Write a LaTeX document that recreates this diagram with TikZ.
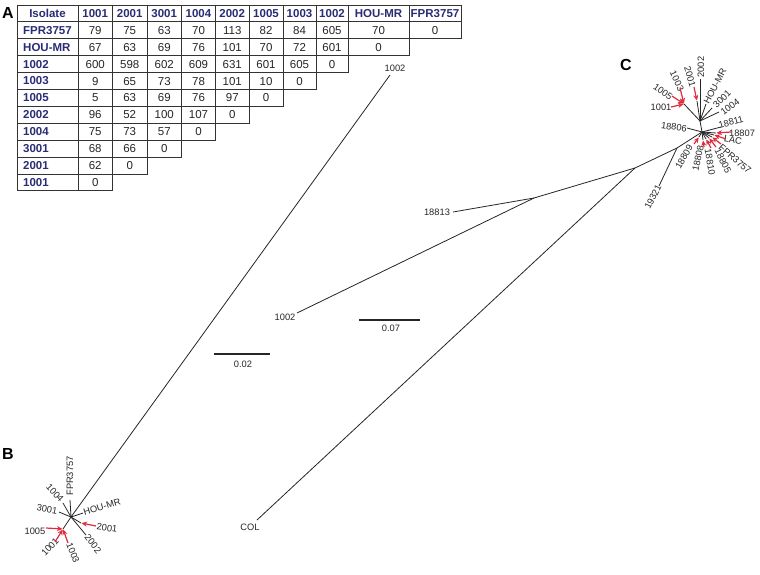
\documentclass[tikz,border=0pt]{standalone}
\usepackage{fontspec}
\setmainfont{Liberation Sans}
\usetikzlibrary{arrows.meta}
\definecolor{navy}{RGB}{42,44,118}
\definecolor{arrred}{RGB}{222,44,60}
\begin{document}
\begin{tikzpicture}[x=1pt,y=-1pt,
  tl/.style={line width=0.8pt, draw=black!85},
  sbar/.style={line width=1.3pt, draw=black!85},
  lbl/.style={font=\fontsize{9.3}{10}\selectfont, inner sep=0pt, text=black!85},
  redarr/.style={draw=arrred, line width=1.2pt, shorten >=0.5pt, -{Stealth[length=5.5pt,width=5pt]}},
  cellline/.style={draw=black!80, line width=0.9pt},
  hdr/.style={font=\fontsize{11.5}{13}\selectfont\bfseries, text=navy, inner sep=0pt},
  num/.style={font=\fontsize{11.5}{13}\selectfont, text=black!85, inner sep=0pt},
  panel/.style={font=\fontsize{16}{18}\selectfont\bfseries, inner sep=0pt}]
\useasboundingbox (0,0) rectangle (760,575);
\fill[white] (0,0) rectangle (760,575);

% ---------------- table (A) ----------------
\def\colxarr{{17,78,112.5,147,181.5,215.5,249,283,316,348,409,461}}
\foreach \h [count=\c from 0] in {Isolate,1001,2001,3001,1004,2002,1005,1003,1002,HOU-MR,FPR3757}{
  \pgfmathsetmacro\xa{\colxarr[\c]}
  \pgfmathsetmacro\xb{\colxarr[\c+1]}
  \draw[cellline] (\xa,5) rectangle (\xb,21.9);
  \node[hdr] (h-\c) at ({(\xa+\xb)/2},13.45) {\h};
}
\foreach \lab/\vals [count=\r] in {
  FPR3757/{79,75,63,70,113,82,84,605,70,0},
  HOU-MR/{67,63,69,76,101,70,72,601,0},
  1002/{600,598,602,609,631,601,605,0},
  1003/{9,65,73,78,101,10,0},
  1005/{5,63,69,76,97,0},
  2002/{96,52,100,107,0},
  1004/{75,73,57,0},
  3001/{68,66,0},
  2001/{62,0},
  1001/{0}}{
  \pgfmathsetmacro\ya{5+16.9*\r}
  \pgfmathsetmacro\yb{\ya+16.9}
  \draw[cellline] (17,\ya) rectangle (78,\yb);
  \node[hdr,anchor=west] (r-\r) at (23,{(\ya+\yb)/2}) {\lab};
  \foreach \v [count=\c] in \vals {
    \pgfmathsetmacro\xa{\colxarr[\c]}
    \pgfmathsetmacro\xb{\colxarr[\c+1]}
    \draw[cellline] (\xa,\ya) rectangle (\xb,\yb);
    \node[num] (v-\r-\c) at ({(\xa+\xb)/2},{(\ya+\yb)/2}) {\v};
  }
}

% ---------------- panel letters ----------------
\node[panel] (pA) at (8,13) {A};
\node[panel] (pB) at (8,454) {B};
\node[panel] (pC) at (626,65) {C};

% ---------------- tree B ----------------
\coordinate (b0) at (71,517);
\coordinate (bn) at (63,529);
\coordinate (bFPR) at (70,500);
\coordinate (b1004) at (63,503);
\coordinate (b3001) at (59,512);
\coordinate (bHOU) at (83,513);
\coordinate (b2001) at (81,523);
\coordinate (b2002) at (86,535);
\coordinate (t1002) at (390,75);
\draw[tl] (b0) -- (t1002);
\foreach \t in {bn,bFPR,b1004,b3001,bHOU,b2001,b2002} \draw[tl] (b0) -- (\t);
\node[lbl] (lt1002) at (395,68) {1002};
\node[lbl,rotate=90] (lbFPR) at (70,476) {FPR3757};
\node[lbl,rotate=-48] (lb1004) at (55,493) {1004};
\node[lbl,rotate=-10] (lb3001) at (47,509) {3001};
\node[lbl,rotate=17] (lbHOU) at (102,507) {HOU-MR};
\node[lbl,rotate=-8] (lb2001) at (107,528) {2001};
\node[lbl,rotate=-52] (lb2002) at (93,544) {2002};
\node[lbl] (lb1005) at (35,531) {1005};
\node[lbl,rotate=47] (lb1001) at (50,547) {1001};
\node[lbl,rotate=-68] (lb1003) at (73,553) {1003};
\coordinate (ba1005) at (46,528);
\coordinate (ba1001) at (55,542);
\coordinate (ba1003) at (68,543);
\coordinate (ba2001) at (96,526);
\draw[redarr] (ba1005) -- (bn);
\draw[redarr] (ba1001) -- (bn);
\draw[redarr] (ba1003) -- (bn);
\draw[redarr] (ba2001) -- (b2001);

% ---------------- tree C ----------------
\coordinate (c0) at (702,132);
\coordinate (c1) at (677,148);
\coordinate (c2) at (635,168);
\coordinate (c3) at (534,198);
\coordinate (e19321) at (659,186);
\coordinate (eCOL) at (257,520);
\coordinate (e1002) at (297,313);
\coordinate (e18813) at (453,212);
\draw[tl] (c0) -- (c1) -- (c2) -- (c3) -- (e1002);
\draw[tl] (c3) -- (e18813);
\draw[tl] (c2) -- (eCOL);
\draw[tl] (c1) -- (e19321);
\node[lbl] (lCOL) at (250,527) {COL};
\node[lbl] (l1002) at (285,317) {1002};
\node[lbl] (l18813) at (437,212) {18813};
\node[lbl,rotate=63] (l19321) at (653,197) {19321};

% upper subtree
\coordinate (cu) at (700,121);
\coordinate (cn) at (684,104);
\coordinate (c2002) at (700,79);
\coordinate (cHOU) at (706,104);
\coordinate (c3001) at (712,108);
\coordinate (c1004) at (719,112);
\coordinate (c2001) at (697,101);
\draw[tl] (c0) -- (cu);
\foreach \t in {cn,c2002,cHOU,c3001,c1004,c2001} \draw[tl] (cu) -- (\t);
\node[lbl,rotate=90] (lc2002) at (701,67) {2002};
\node[lbl,rotate=62] (lcHOU) at (715,86) {HOU-MR};
\node[lbl,rotate=45] (lc3001) at (722,99) {3001};
\node[lbl,rotate=36] (lc1004) at (730,107) {1004};
\node[lbl,rotate=-75] (lc2001) at (690,77) {2001};
\node[lbl,rotate=-65] (lc1003) at (677,81) {1003};
\node[lbl,rotate=-35] (lc1005) at (663,92) {1005};
\node[lbl] (lc1001) at (661,107) {1001};
\coordinate (ca1001) at (671,107);
\coordinate (ca1005) at (672,96);
\coordinate (ca1003) at (680,88);
\coordinate (ca2001) at (694,87);
\draw[redarr] (ca1001) -- (cn);
\draw[redarr] (ca1005) -- (cn);
\draw[redarr] (ca1003) -- (cn);
\draw[redarr] (ca2001) -- (c2001);

% lower subtree
\coordinate (l18806) at (687,128);
\coordinate (l18811) at (721,127);
\coordinate (l18807) at (716,133);
\coordinate (lLAC) at (714,135);
\coordinate (lFPR) at (712,137);
\coordinate (l18805) at (709,138);
\coordinate (l18810) at (706,139);
\coordinate (l18808) at (703,140);
\coordinate (l18809) at (699,137);
\foreach \t in {l18806,l18811,l18807,lLAC,lFPR,l18805,l18810,l18808,l18809} \draw[tl] (c0) -- (\t);
\node[lbl,rotate=-8] (n18806) at (674,127) {18806};
\node[lbl,rotate=15] (n18811) at (731,122) {18811};
\node[lbl] (n18807) at (742,133) {18807};
\node[lbl,rotate=-10] (nLAC) at (733,140) {LAC};
\node[lbl,rotate=-41] (nFPR) at (735,159) {FPR3757};
\node[lbl,rotate=-63] (n18805) at (723,161) {18805};
\node[lbl,rotate=-80] (n18810) at (710,162) {18810};
\node[lbl,rotate=78] (n18808) at (698,158) {18808};
\node[lbl,rotate=60] (n18809) at (684,157) {18809};
\coordinate (a18807) at (731,132);
\coordinate (aLAC) at (726,139);
\coordinate (aFPR) at (721,144);
\coordinate (a18805) at (716,147);
\coordinate (a18810) at (711,148);
\coordinate (a18808) at (704,147);
\coordinate (a18809) at (694,144);
\foreach \a/\t in {a18807/l18807,aLAC/lLAC,aFPR/lFPR,a18805/l18805,a18810/l18810,a18808/l18808,a18809/l18809}
  \draw[redarr] (\a) -- (\t);

% ---------------- scale bars ----------------
\coordinate (s2a) at (214,354);
\coordinate (s2b) at (270,354);
\draw[sbar] (s2a) -- (s2b);
\node[lbl] (s2l) at (243,364) {0.02};
\coordinate (s7a) at (359,320);
\coordinate (s7b) at (420,320);
\draw[sbar] (s7a) -- (s7b);
\node[lbl] (s7l) at (391,328) {0.07};
\end{tikzpicture}
\end{document}
